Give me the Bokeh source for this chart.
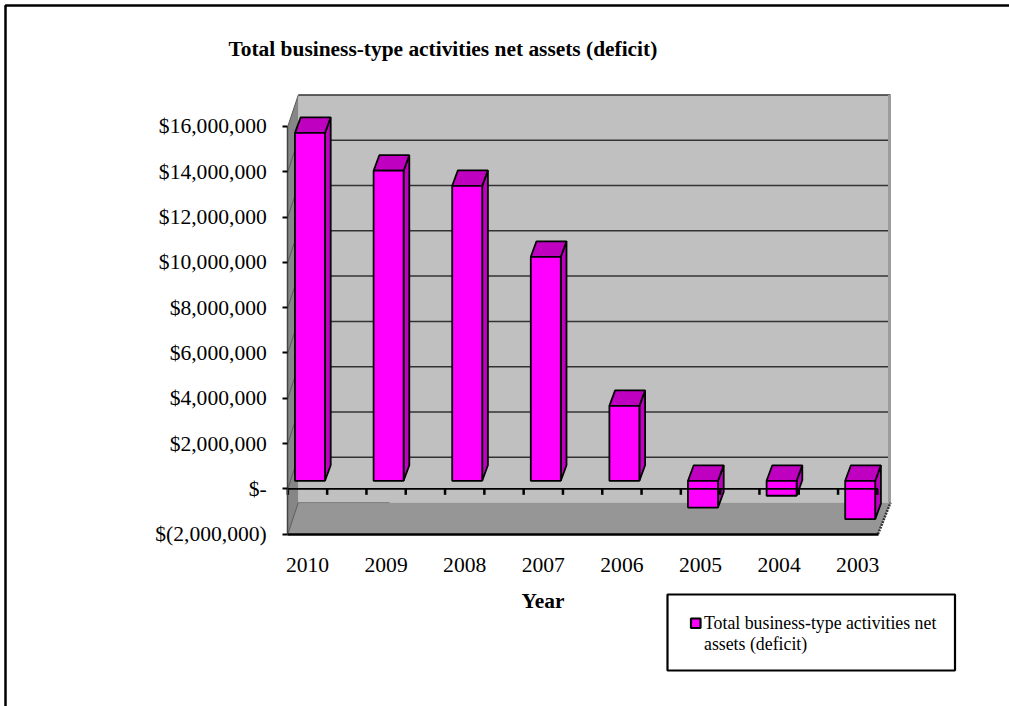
from bokeh.embed import file_html
from bokeh.resources import INLINE
from bokeh.plotting import figure
from bokeh.models import LinearAxis, FixedTicker, Label, Range1d

# Series
years = ["2010", "2009", "2008", "2007", "2006", "2005", "2004", "2003"]
net_assets = [15360000, 13690000, 13020000, 9890000, 3310000, -1180000, -660000, -1690000]

# Value axis
y_ticks = [-2000000, 0, 2000000, 4000000, 6000000, 8000000, 10000000, 12000000, 14000000, 16000000]
y_labels = ["$(2,000,000)", "$-", "$2,000,000", "$4,000,000", "$6,000,000", "$8,000,000",
            "$10,000,000", "$12,000,000", "$14,000,000", "$16,000,000"]

chart_title = "Total business-type activities net assets (deficit)"
x_title = "Year"
legend_lines = ["Total business-type activities net", "assets (deficit)"]

W, H = 1009, 706
SERIF = "Liberation Serif"

# Screen scale of the two axes
CAT_PX = 78.6
VAL_PX = 45.3 / 2000000
X0_PX = 307.0
Y0_PX = 488.3

def dx(px):
    return px / CAT_PX

def dy(px):
    return px / VAL_PX

def sx(px):
    return (px - X0_PX) / CAT_PX

def sy(px):
    return (Y0_PX - px) / VAL_PX

p = figure(width=W, height=H, output_backend="svg", toolbar_location=None,
           x_range=Range1d(sx(0), sx(W)), y_range=Range1d(sy(H), sy(0)),
           min_border=0, min_border_left=0, min_border_right=0,
           min_border_top=0, min_border_bottom=0, x_axis_type=None, y_axis_type=None)
p.grid.visible = False
p.outline_line_color = None
p.background_fill_color = "white"

# Chart area border (top and left sides)
p.line([sx(5), sx(5), sx(W)], [sy(H), sy(5), sy(5)], line_color="black", line_width=2.5)

# Oblique depth of the plot box
left_cat = sx(287.3)
right_cat = sx(877.5)
depth_x = dx(10.5)
depth_y = dy(31.5)
y_min, y_max = y_ticks[0], y_ticks[-1]

# Back wall, left wall and floor
p.patch([left_cat + depth_x, right_cat + depth_x + dx(2), right_cat + depth_x + dx(2), left_cat + depth_x],
        [y_min + depth_y] * 2 + [y_max + depth_y] * 2, fill_color="#C0C0C0", line_color=None)
p.patch([left_cat, left_cat + depth_x, left_cat + depth_x, left_cat],
        [y_min, y_min + depth_y, y_max + depth_y, y_max], fill_color="#868686", line_color=None)
p.patch([left_cat, right_cat, right_cat + depth_x + dx(2), left_cat + depth_x],
        [y_min, y_min, y_min + depth_y, y_min + depth_y], fill_color="#969696", line_color=None)

# Gridlines on the back and left walls
wall_ticks = [t for t in y_ticks if 0 <= t < y_max]
p.segment(x0=[left_cat + depth_x] * len(wall_ticks), x1=[right_cat + depth_x] * len(wall_ticks),
          y0=[t + depth_y for t in wall_ticks], y1=[t + depth_y for t in wall_ticks],
          line_color="#333333", line_width=1.5)
p.segment(x0=[left_cat + depth_x], x1=[right_cat + depth_x + dx(2)],
          y0=[y_max + depth_y], y1=[y_max + depth_y], line_color="#333333", line_width=1.5)
p.segment(x0=[left_cat] * len(y_ticks), x1=[left_cat + depth_x] * len(y_ticks),
          y0=y_ticks, y1=[t + depth_y for t in y_ticks], line_color="#5a5a5a", line_width=1)
p.segment(x0=[left_cat + depth_x], x1=[sx(389)], y0=[y_min + depth_y], y1=[y_min + depth_y],
          line_color="#7c7c7c", line_width=1)

# Right edge of the wall and floor
p.segment(x0=[right_cat + depth_x + dx(1)], x1=[right_cat + depth_x + dx(1)],
          y0=[y_min + depth_y], y1=[y_max + depth_y], line_color="#9c9c9c", line_width=3)
p.segment(x0=[right_cat], x1=[right_cat + depth_x + dx(2)],
          y0=[y_min], y1=[y_min + depth_y], line_color="#333333", line_width=2.5, line_dash="2 1")

# Column geometry
bar_half = dx(15)
bar_shift = dx(2.5)
bar_lift = dy(8)
bar_dx = dx(5.7)
bar_dy = dy(15.5)

for i, v in enumerate(net_assets):
    left = i + bar_shift - bar_half
    right = i + bar_shift + bar_half
    top = max(v, 0) + bar_lift
    bottom = min(v, 0) + bar_lift
    # side face, top face, then front face
    p.patch([right, right + bar_dx, right + bar_dx, right],
            [bottom, bottom + bar_dy, top + bar_dy, top],
            fill_color="#C000C0", line_color="black", line_width=1.8)
    p.patch([left, right, right + bar_dx, left + bar_dx],
            [top, top, top + bar_dy, top + bar_dy],
            fill_color="#C000C0", line_color="black", line_width=1.8)
    p.quad(left=[left], right=[right], top=[top], bottom=[bottom],
           fill_color="#FF00FF", line_color="black", line_width=1.8)

# Zero line and its tick marks, drawn over the columns
tick_positions = [-0.25 + 0.5 * k for k in range(16)]
p.segment(x0=[left_cat], x1=[right_cat], y0=[0], y1=[0], line_color="black", line_width=1.8)
p.segment(x0=tick_positions, x1=tick_positions, y0=[0] * 16, y1=[-dy(6)] * 16,
          line_color="black", line_width=2.5)

# Value axis, pinned to the front-left edge of the box
y_axis = LinearAxis(fixed_location=left_cat, ticker=FixedTicker(ticks=y_ticks),
                    major_label_overrides={t: s for t, s in zip(y_ticks, y_labels)},
                    bounds=(y_min, y_max),
                    major_tick_in=0, major_tick_out=5, minor_tick_line_color=None,
                    major_tick_line_color="black", major_tick_line_width=2,
                    axis_line_color="#444444", axis_line_width=1.5,
                    major_label_text_font=SERIF, major_label_text_font_size="21.6px",
                    major_label_text_color="black", major_label_standoff=16)
p.add_layout(y_axis, "left")

# Category labels under the floor edge
cat_axis = LinearAxis(fixed_location=y_min, ticker=FixedTicker(ticks=list(range(len(years)))),
                      major_label_overrides={i: y for i, y in enumerate(years)},
                      bounds=(left_cat, right_cat),
                      major_tick_line_color=None, minor_tick_line_color=None,
                      axis_line_color="black", axis_line_width=2.5,
                      major_label_text_font=SERIF, major_label_text_font_size="21.6px",
                      major_label_text_color="black", major_label_standoff=18)
p.add_layout(cat_axis, "below")

def screen_label(text, x, y, size, bold=False, align="left"):
    p.add_layout(Label(x=x, y=H - y, x_units="screen", y_units="screen", text=text,
                       text_font=SERIF, text_font_size=size, text_color="black",
                       text_font_style="bold" if bold else "normal",
                       text_align=align, text_baseline="alphabetic"))

screen_label(chart_title, 228, 48, "21.4px", bold=True)
screen_label(x_title, 542.5, 600, "21.4px", bold=True, align="center")

# Legend box, swatch and text
p.quad(left=[sx(667)], right=[sx(954.5)], top=[sy(594)], bottom=[sy(670)],
       fill_color="white", line_color="black", line_width=2.2)
p.quad(left=[sx(690.5)], right=[sx(700)], top=[sy(618)], bottom=[sy(627.5)],
       fill_color="#FF00FF", line_color="black", line_width=2.2)
screen_label(legend_lines[0], 703.5, 622.5, "17.8px")
screen_label(legend_lines[1], 703.5, 643, "17.8px")

open("out.html", "w").write(file_html(p, INLINE))
